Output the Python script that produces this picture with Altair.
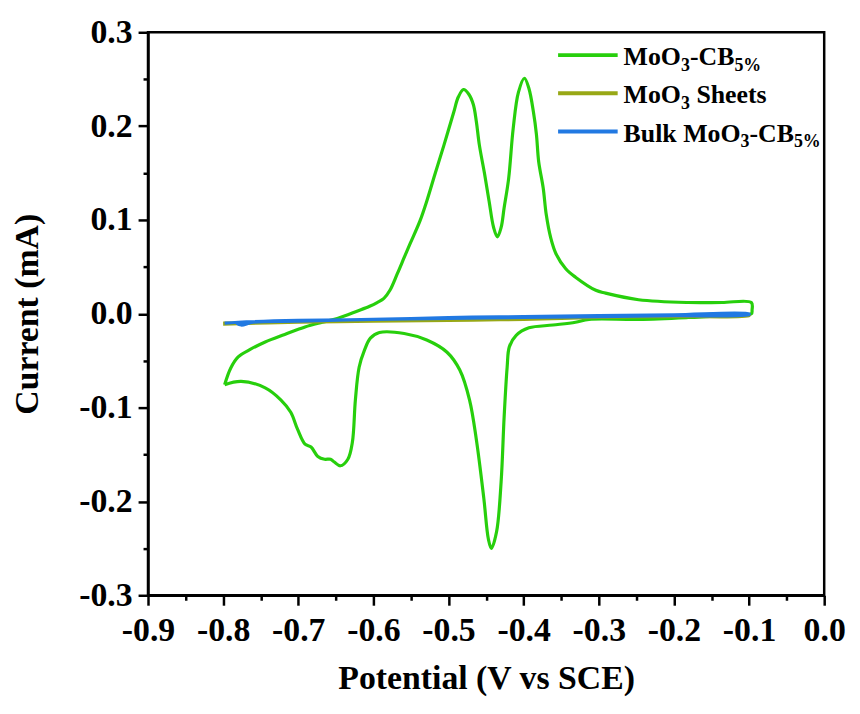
import altair as alt
import pandas as pd

# ---------------- data ----------------
green_x = [-0.798, -0.790, -0.780, -0.764, -0.744, -0.718, -0.691, -0.668, -0.648, -0.621,
           -0.605, -0.595, -0.586, -0.578, -0.568, -0.559, -0.551, -0.538, -0.529, -0.518,
           -0.506, -0.493, -0.487, -0.480, -0.473, -0.467, -0.463, -0.459, -0.452, -0.446,
           -0.440, -0.435, -0.430, -0.426, -0.420, -0.414, -0.407, -0.399, -0.393, -0.387,
           -0.383, -0.380, -0.374, -0.370, -0.364, -0.357, -0.344, -0.331, -0.304, -0.291,
           -0.247, -0.181, -0.136, -0.097, -0.096,
           -0.097, -0.136, -0.181, -0.247, -0.313, -0.331, -0.361, -0.393, -0.410, -0.419,
           -0.422, -0.426, -0.430, -0.436, -0.443, -0.447, -0.453, -0.463, -0.472, -0.485,
           -0.502, -0.529, -0.559, -0.592, -0.604, -0.612, -0.619, -0.624, -0.628, -0.634,
           -0.644, -0.652, -0.657, -0.665, -0.674, -0.683, -0.691, -0.701, -0.710, -0.723,
           -0.744, -0.776, -0.798]
green_y = [-0.0756, -0.058, -0.046, -0.038, -0.030, -0.022, -0.014, -0.009, -0.005, 0.003,
           0.008, 0.012, 0.0164, 0.025, 0.043, 0.060, 0.075, 0.099, 0.120, 0.149,
           0.180, 0.215, 0.231, 0.239, 0.234, 0.223, 0.205, 0.180, 0.149, 0.120,
           0.092, 0.082, 0.092, 0.113, 0.144, 0.197, 0.236, 0.251, 0.240, 0.215,
           0.191, 0.162, 0.134, 0.106, 0.081, 0.064, 0.048, 0.039, 0.025, 0.022,
           0.015, 0.012, 0.012, 0.012, 0.004,
           0.000, -0.002, -0.004, -0.006, -0.006, -0.009, -0.012, -0.015, -0.023, -0.035,
           -0.057, -0.110, -0.179, -0.232, -0.250, -0.240, -0.197, -0.134, -0.092, -0.060,
           -0.041, -0.028, -0.021, -0.020, -0.026, -0.039, -0.057, -0.092, -0.137, -0.155,
           -0.162, -0.158, -0.155, -0.155, -0.152, -0.142, -0.139, -0.123, -0.105, -0.092,
           -0.079, -0.072, -0.0756]

olive_x = [-0.800, -0.700, -0.600, -0.500, -0.400, -0.300, -0.200, -0.100,
           -0.100, -0.200, -0.300, -0.400, -0.500, -0.600, -0.700, -0.800]
olive_y = [-0.010, -0.009, -0.008, -0.006, -0.005, -0.004, -0.002, -0.001,
           -0.002, -0.003, -0.004, -0.006, -0.007, -0.008, -0.009, -0.011]

blue_x = [-0.798, -0.780, -0.700, -0.600, -0.500, -0.400, -0.300, -0.200, -0.100,
          -0.100, -0.200, -0.300, -0.400, -0.500, -0.600, -0.700, -0.760, -0.776, -0.782]
blue_y = [-0.010, -0.009, -0.007, -0.006, -0.004, -0.003, -0.002, -0.001, 0.000,
          -0.001, -0.002, -0.003, -0.004, -0.005, -0.006, -0.008, -0.009, -0.012, -0.010]

series_names = ["MoO3-CB5%", "MoO3 Sheets", "Bulk MoO3-CB5%"]
series_colors = ["#27cf0c", "#98a816", "#2179e2"]

major_x = [round(-0.9 + 0.1 * k, 2) for k in range(10)]
minor_x = [round(-0.85 + 0.1 * k, 2) for k in range(9)]
major_y = [round(-0.3 + 0.1 * k, 2) for k in range(7)]
minor_y = [round(-0.25 + 0.1 * k, 2) for k in range(6)]


def frame(xs, ys):
    return pd.DataFrame({"E": xs, "I": ys, "i": list(range(len(xs)))})


FONT = "Liberation Serif"
x_scale = alt.Scale(domain=[-0.9, 0.0], nice=False, zero=False)
y_scale = alt.Scale(domain=[-0.3, 0.3], nice=False, zero=False)
lab = "datum.value < 0 ? '-' + format(-datum.value, '.1f') : format(datum.value, '.1f')"

common = dict(labelFont=FONT, titleFont=FONT, labelFontWeight="bold", titleFontWeight="bold",
              labelFontSize=34, titleFontSize=34, labelColor="black", titleColor="black",
              domainColor="black", tickColor="black", grid=False, labelOverlap=False,
              labelFlush=False)

major_x_axis = alt.Axis(values=major_x, labelExpr=lab, title="Potential (V vs SCE)",
                        orient="bottom", tickSize=10, tickWidth=2.5, domainWidth=2.5,
                        labelPadding=9, titlePadding=14, **common)
major_y_axis = alt.Axis(values=major_y, labelExpr=lab, title="Current (mA)",
                        orient="left", tickSize=10, tickWidth=2.5, domainWidth=2.5,
                        labelPadding=6, titlePadding=34, **common)
minor_x_axis = alt.Axis(values=minor_x, labels=False, title=None, orient="bottom",
                        tickSize=5, tickWidth=2.5, domain=False, tickColor="black", grid=False)
minor_y_axis = alt.Axis(values=minor_y, labels=False, title=None, orient="left",
                        tickSize=5, tickWidth=2.5, domain=False, tickColor="black", grid=False)


def line(df, color, xaxis, yaxis):
    return alt.Chart(df).mark_line(color=color, strokeWidth=3.2, strokeJoin="round",
                                   interpolate="catmull-rom").encode(
        x=alt.X("E:Q", scale=x_scale, axis=xaxis),
        y=alt.Y("I:Q", scale=y_scale, axis=yaxis),
        order=alt.Order("i:Q"),
    )


green = line(frame(green_x, green_y), series_colors[0], major_x_axis, major_y_axis)
olive = line(frame(olive_x, olive_y), series_colors[1], minor_x_axis, minor_y_axis)
blue = line(frame(blue_x, blue_y), series_colors[2], None, None)

# ---------------- manual legend with subscripts ----------------
W = {"M": 944, "o": 500, "O": 778, "-": 333, "C": 722, "B": 667, " ": 250,
     "S": 556, "h": 556, "e": 444, "t": 333, "s": 389, "u": 556, "l": 278, "k": 556,
     "3": 500, "5": 500, "%": 1000}
LEG_FS = 26
SUB_FS = 18
one = pd.DataFrame({"a": [0]})


def txt(s, x, y, fs):
    return alt.Chart(one).mark_text(align="left", baseline="alphabetic", font=FONT,
                                    fontWeight="bold", fontSize=fs, color="black").encode(
        x=alt.value(x), y=alt.value(y), text=alt.value(s))


# (text, is_subscript); a leading space is used only for spacing
legend_parts = [
    [("MoO", 0), ("3", 1), ("-CB", 0), ("5%", 1)],
    [("MoO", 0), ("3", 1), (" Sheets", 0)],
    [("Bulk", 0), (" MoO", 0), ("3", 1), ("-CB", 0), ("5%", 1)],
]
legend_layers = []
for k, parts in enumerate(legend_parts):
    ly = 23 + 38.5 * k
    base = 33 + 38.5 * k
    legend_layers.append(
        alt.Chart(one).mark_rule(color=series_colors[k], strokeWidth=4).encode(
            x=alt.value(413), x2=alt.value(473), y=alt.value(ly)))
    cx = 479.0
    for s, sub in parts:
        fs = SUB_FS if sub else LEG_FS
        stripped = s.lstrip(" ")
        cx += (len(s) - len(stripped)) * W[" "] / 1000.0 * fs
        legend_layers.append(txt(stripped, cx, base + (6 if sub else 0), fs))
        cx += sum(W[c] for c in stripped) / 1000.0 * fs

chart = alt.layer(green, olive, blue, *legend_layers).resolve_axis(
    x="independent", y="independent"
).properties(
    width=681, height=567, background="white",
    autosize=alt.AutoSizeParams(type="none"),
    padding={"left": 141, "top": 22, "right": 28, "bottom": 101},
).configure_view(stroke="black", strokeWidth=2.5)

chart.save("out.html", embed_options={"renderer": "svg", "actions": False})
